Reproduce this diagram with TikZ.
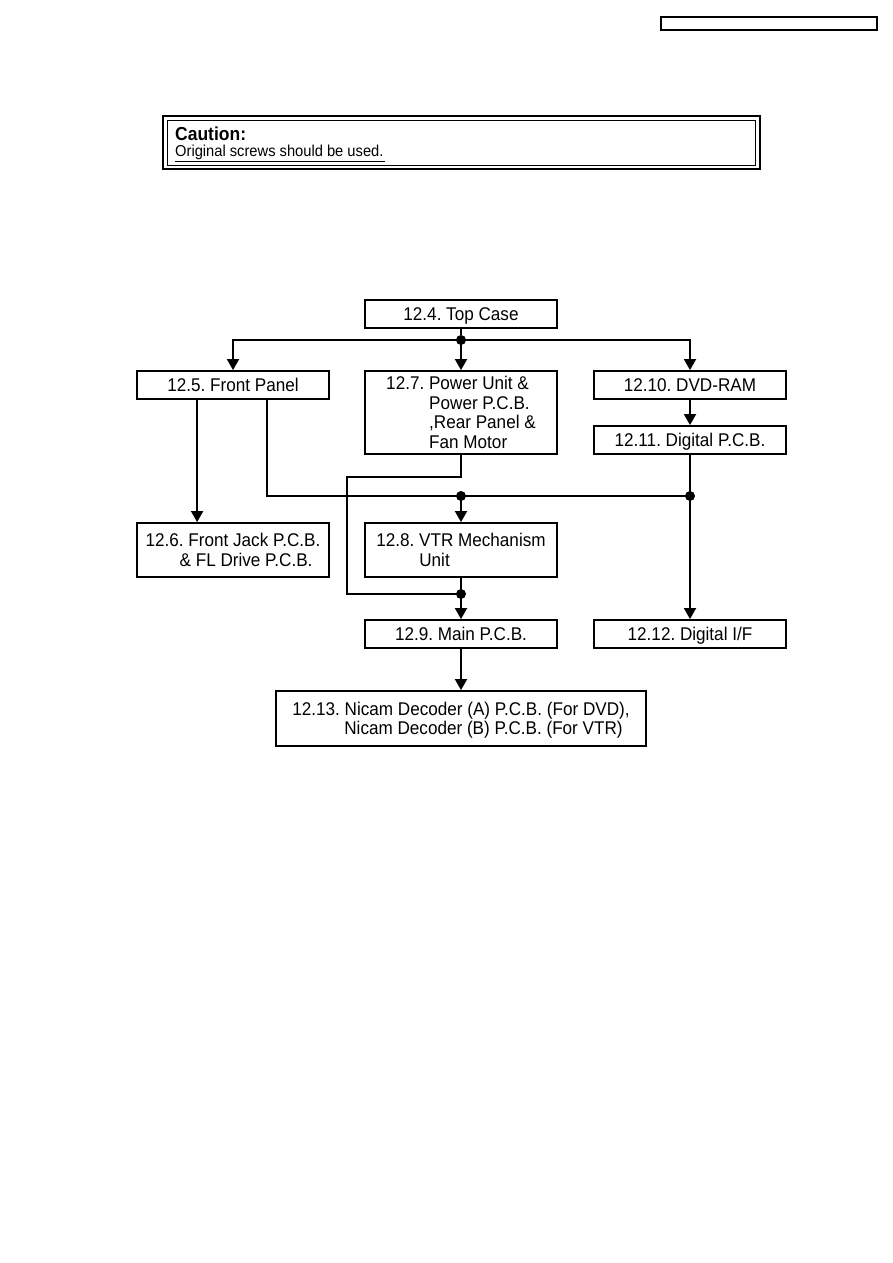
\documentclass[tikz,border=0pt]{standalone}
\usepackage{fontspec}
\setmainfont{Liberation Sans}
\newfontfamily\diagfont[FakeStretch=0.93]{Liberation Sans}
\usetikzlibrary{arrows.meta,positioning,calc}
\frenchspacing

\begin{document}
\begin{tikzpicture}[x=1pt,y=-1pt,>={Triangle[length=11pt,width=12pt]},
  box/.style={draw,line width=1.8pt,minimum width=192pt,minimum height=28pt,inner sep=0pt,align=left,text depth=0pt,font=\diagfont\fontsize{18.4}{19.5}\selectfont},
  jdot/.style={circle,fill,inner sep=0pt,minimum size=10pt},
  wire/.style={line width=1.8pt}]
\useasboundingbox (0,0) rectangle (893,1263);
% header and caution
\node[draw,line width=1.4pt,minimum width=216pt,minimum height=13pt,inner sep=0pt] (hdr) at (769,23.5) {};
\node[draw,line width=2.6pt,minimum width=597pt,minimum height=53pt,inner sep=0pt] (caution) at (461.5,142.5) {};
\node[draw,line width=0.7pt,minimum width=588pt,minimum height=45pt,inner sep=0pt] (cautionin) at (461,142.5) {};
\node[anchor=base west,inner sep=0pt,font=\diagfont\fontsize{18.8}{20}\selectfont\bfseries] (cauthead) at (175,140) {Caution:};
\node[anchor=base west,inner sep=0pt,font=\diagfont\fontsize{15.8}{18}\selectfont] (cauttext) at (175,156) {Original screws should be used.};
\draw[line width=0.8pt] ([yshift=-5pt]cauttext.base west) -- ([yshift=-5pt,xshift=1pt]cauttext.base east);

% boxes
\node[box] (top) at (461,314) {12.4. Top Case};
\node[box] (front) at (233,385) {12.5. Front Panel};
\node[box,minimum height=83pt] (power) at (461,412.5) {12.7. Power Unit \&\\\hspace*{43pt}Power P.C.B.\\\hspace*{43pt},Rear Panel \&\\\hspace*{43pt}Fan Motor};
\node[box] (dvd) at (690,385) {12.10. DVD-RAM};
\node[box] (digpcb) at (690,440) {12.11. Digital P.C.B.};
\node[box,minimum height=54pt] (jack) at (233,550) {12.6. Front Jack P.C.B.\\\hspace*{34pt}\& FL Drive P.C.B.};
\node[box,minimum height=54pt] (vtr) at (461,550) {12.8. VTR Mechanism\\\hspace*{43pt}Unit};
\node[box] (main) at (461,634) {12.9. Main P.C.B.};
\node[box] (digif) at (690,634) {12.12. Digital I/F};
\node[box,minimum width=370pt,minimum height=55pt] (nicam) at (461,718.5) {12.13. Nicam Decoder (A) P.C.B. (For DVD),\\\hspace*{52pt}Nicam Decoder (B) P.C.B. (For VTR)};

% junctions
\node[jdot] (j0) at (461,340) {};
\node[jdot] (j1) at (461,496) {};
\node[jdot] (j2) at (690,496) {};
\node[jdot] (j3) at (461,594) {};
\coordinate (fp1) at ($(front.south west)+(61,0)$);
\coordinate (fp2) at ($(front.south west)+(131,0)$);
\coordinate (bendtop) at (347,477);

% connectors
\draw[wire] (top) -- (j0);
\draw[wire,->] (j0.center) -| (front.north);
\draw[wire,->] (j0.center) -- (power.north);
\draw[wire,->] (j0.center) -| (dvd.north);
\draw[wire,->] (dvd) -- (digpcb);
\draw[wire,->] (fp1) -- (fp1 |- jack.north);
\draw[wire] (fp2) |- (j2.center);
\draw[wire] (digpcb) -- (j2.center);
\draw[wire,->] (j2.center) -- (digif.north);
\draw[wire,->] (j1.center) -- (vtr.north);
\draw[wire] (power.south) |- (bendtop) |- (j3.center);
\draw[wire] (vtr) -- (j3.center);
\draw[wire,->] (j3.center) -- (main.north);
\draw[wire,->] (main) -- (nicam);
\end{tikzpicture}
\end{document}
